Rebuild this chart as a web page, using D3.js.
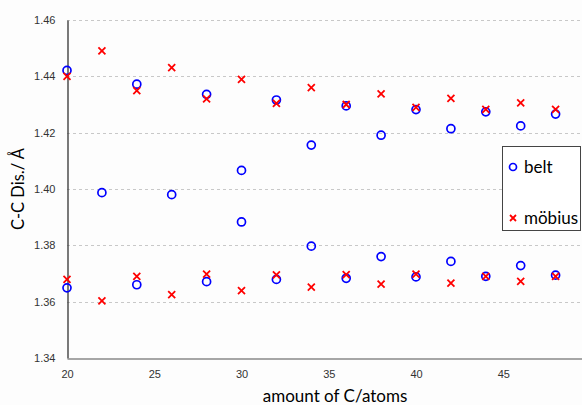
<!DOCTYPE html>
<html><head><meta charset="utf-8">
<script src="https://cdn.jsdelivr.net/npm/d3@7"></script>
<style>body{margin:0;background:#fff}svg{display:block}</style>
</head><body>
<svg id="c" width="582" height="405"></svg>
<script>
// Data
const xTicks = [20, 25, 30, 35, 40, 45];
const yTicks = [1.34, 1.36, 1.38, 1.40, 1.42, 1.44, 1.46];
const beltX = [20, 20, 22, 24, 24, 26, 28, 28, 30, 30, 32, 32, 34, 34, 36, 36, 38, 38, 40, 40, 42, 42, 44, 44, 46, 46, 48, 48];
const beltY = [1.4421, 1.3649, 1.3987, 1.4372, 1.3660, 1.3980, 1.4336, 1.3671, 1.4066, 1.3883, 1.4316, 1.3679, 1.4156, 1.3797, 1.4295, 1.3683, 1.4191, 1.3760, 1.4282, 1.3688, 1.4214, 1.3743, 1.4274, 1.3690, 1.4224, 1.3728, 1.4266, 1.3694];
const mobiusX = [20, 20, 22, 22, 24, 24, 26, 26, 28, 28, 30, 30, 32, 32, 34, 34, 36, 36, 38, 38, 40, 40, 42, 42, 44, 44, 46, 46, 48, 48];
const mobiusY = [1.4400, 1.3679, 1.4490, 1.3603, 1.4349, 1.3690, 1.4431, 1.3625, 1.4320, 1.3698, 1.4389, 1.3639, 1.4304, 1.3695, 1.4360, 1.3652, 1.4300, 1.3696, 1.4338, 1.3662, 1.4290, 1.3698, 1.4322, 1.3666, 1.4283, 1.3690, 1.4306, 1.3672, 1.4283, 1.3690];
const seriesNames = ["belt", "möbius"];

const svg = d3.select("#c");
const x = d3.scaleLinear().domain([20, 50]).range([67, 590.5]);
const y = d3.scaleLinear().domain([1.34, 1.46]).range([358, 20]);

svg.append("rect").attr("width", 582).attr("height", 405).attr("fill", "#fdfdfd");

// gridlines
svg.append("g").selectAll("line").data(yTicks.filter(d => d > 1.341)).join("line")
  .attr("x1", 67).attr("x2", 582)
  .attr("y1", d => Math.round(y(d)) + 0.5).attr("y2", d => Math.round(y(d)) + 0.5)
  .attr("stroke", "#c8c8c8").attr("stroke-dasharray", "3,3").attr("stroke-width", 1);

// y axis
const yAxis = svg.append("g").attr("transform", "translate(67.5,0)")
  .call(d3.axisLeft(y).tickValues(yTicks).tickFormat(d3.format(".2f")).tickSize(0).tickPadding(12));
yAxis.select(".domain").attr("stroke", "#333").attr("stroke-width", 1.3);
yAxis.selectAll("text").attr("font-family", "Liberation Sans, Arial, sans-serif").attr("font-size", 11).attr("fill", "#333");

// x axis
const xAxis = svg.append("g").attr("transform", "translate(0,358.5)")
  .call(d3.axisBottom(x).tickValues(xTicks).tickSize(0).tickPadding(12));
xAxis.select(".domain").attr("stroke", "#888").attr("stroke-width", 1.6);
xAxis.selectAll("text").attr("font-family", "Liberation Sans, Arial, sans-serif").attr("font-size", 11).attr("fill", "#333");

// axis titles
svg.append("text").attr("x", 335).attr("y", 402).attr("text-anchor", "middle")
  .attr("font-family", "Lato, sans-serif").attr("font-size", 17).attr("fill", "#000")
  .text("amount of C/atoms");
svg.append("text").attr("transform", "translate(24,189) rotate(-90)").attr("text-anchor", "middle")
  .attr("font-family", "Lato, sans-serif").attr("font-size", 16.5).attr("fill", "#000")
  .text("C-C Dis./ Å");

// belt circles
svg.append("g").selectAll("circle").data(beltX.map((d, i) => [d, beltY[i]])).join("circle")
  .attr("cx", d => x(d[0])).attr("cy", d => y(d[1])).attr("r", 4)
  .attr("fill", "none").attr("stroke", "#0000ff").attr("stroke-width", 1.7);

// möbius crosses
const cs = 3.5;
svg.append("g").selectAll("path").data(mobiusX.map((d, i) => [d, mobiusY[i]])).join("path")
  .attr("d", d => {
    const cx = x(d[0]), cy = y(d[1]);
    return `M${cx - cs},${cy - cs}L${cx + cs},${cy + cs}M${cx - cs},${cy + cs}L${cx + cs},${cy - cs}`;
  })
  .attr("stroke", "#ff0000").attr("stroke-width", 1.8).attr("fill", "none");

// legend
const lg = svg.append("g");
lg.append("rect").attr("x", 502.5).attr("y", 146.5).attr("width", 78).attr("height", 84)
  .attr("fill", "#fff").attr("stroke", "#444").attr("stroke-width", 1);
lg.append("circle").attr("cx", 513).attr("cy", 167).attr("r", 3.5)
  .attr("fill", "none").attr("stroke", "#0000ff").attr("stroke-width", 1.7);
lg.append("path").attr("d", `M510,215L516,221M510,221L516,215`).attr("stroke", "#ff0000").attr("stroke-width", 1.8);
lg.append("text").attr("x", 524).attr("y", 173).attr("font-family", "Lato, sans-serif").attr("font-size", 17).attr("fill", "#000").text(seriesNames[0]);
lg.append("text").attr("x", 524).attr("y", 224).attr("font-family", "Lato, sans-serif").attr("font-size", 17).attr("fill", "#000").text(seriesNames[1]);
</script>
</body></html>
